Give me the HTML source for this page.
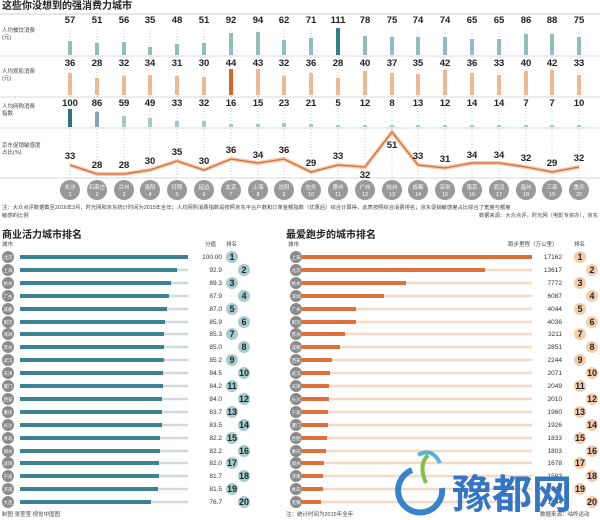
<!DOCTYPE html>
<html><head><meta charset="utf-8"><style>
body{margin:0;background:#fff;width:600px;height:520px;overflow:hidden}
svg{display:block;font-family:"Liberation Sans","Noto Sans CJK SC",sans-serif}
</style></head><body>
<svg width="600" height="520" viewBox="0 0 600 520">
<text x="2" y="9" font-size="10" font-weight="bold" fill="#222">这些你没想到的强消费力城市</text>
<line x1="0" y1="14" x2="600" y2="14" stroke="#ccc" stroke-width="1"/>
<g stroke="#ccc" stroke-width="0.8">
<line x1="0" y1="56" x2="600" y2="56"/><line x1="0" y1="97" x2="600" y2="97"/><line x1="0" y1="128" x2="600" y2="128"/><line x1="0" y1="178" x2="600" y2="178"/>
</g>
<g stroke="#bbb" stroke-width="0.8" stroke-dasharray="1,2">
<line x1="70" y1="30" x2="70" y2="180"/><line x1="97" y1="30" x2="97" y2="180"/><line x1="124" y1="30" x2="124" y2="180"/><line x1="150" y1="30" x2="150" y2="180"/><line x1="177" y1="30" x2="177" y2="180"/><line x1="204" y1="30" x2="204" y2="180"/><line x1="231" y1="30" x2="231" y2="180"/><line x1="258" y1="30" x2="258" y2="180"/><line x1="284" y1="30" x2="284" y2="180"/><line x1="311" y1="30" x2="311" y2="180"/><line x1="338" y1="30" x2="338" y2="180"/><line x1="365" y1="30" x2="365" y2="180"/><line x1="392" y1="30" x2="392" y2="180"/><line x1="418" y1="30" x2="418" y2="180"/><line x1="445" y1="30" x2="445" y2="180"/><line x1="472" y1="30" x2="472" y2="180"/><line x1="499" y1="30" x2="499" y2="180"/><line x1="526" y1="30" x2="526" y2="180"/><line x1="552" y1="30" x2="552" y2="180"/><line x1="579" y1="30" x2="579" y2="180"/>
</g>
<g font-size="5.5" fill="#444">
<text x="2" y="32">人均餐饮消费</text><text x="2" y="39">(元)</text>
<text x="2" y="73">人均观影消费</text><text x="2" y="80">(元)</text>
<text x="2" y="108">人均网购消费</text><text x="2" y="115">指数</text>
<text x="2" y="147">京东促销敏感度</text><text x="2" y="154">占比(%)</text>
</g>
<!-- row1 -->
<g font-size="9.5" font-weight="bold" fill="#222" text-anchor="middle">
<text x="70" y="23">57</text><text x="97" y="23">51</text><text x="124" y="23">56</text><text x="150" y="23">35</text><text x="177" y="23">48</text><text x="204" y="23">51</text><text x="231" y="23">92</text><text x="258" y="23">94</text><text x="284" y="23">62</text><text x="311" y="23">71</text><text x="338" y="23">111</text><text x="365" y="23">78</text><text x="392" y="23">75</text><text x="418" y="23">74</text><text x="445" y="23">74</text><text x="472" y="23">65</text><text x="499" y="23">65</text><text x="526" y="23">86</text><text x="552" y="23">88</text><text x="579" y="23">75</text>
<text x="70" y="66">36</text><text x="97" y="66">28</text><text x="124" y="66">32</text><text x="150" y="66">34</text><text x="177" y="66">31</text><text x="204" y="66">30</text><text x="231" y="66">44</text><text x="258" y="66">43</text><text x="284" y="66">32</text><text x="311" y="66">36</text><text x="338" y="66">28</text><text x="365" y="66">40</text><text x="392" y="66">37</text><text x="418" y="66">35</text><text x="445" y="66">42</text><text x="472" y="66">36</text><text x="499" y="66">33</text><text x="526" y="66">40</text><text x="552" y="66">42</text><text x="579" y="66">33</text>
<text x="70" y="106">100</text><text x="97" y="106">86</text><text x="124" y="106">59</text><text x="150" y="106">49</text><text x="177" y="106">33</text><text x="204" y="106">32</text><text x="231" y="106">16</text><text x="258" y="106">15</text><text x="284" y="106">23</text><text x="311" y="106">21</text><text x="338" y="106">5</text><text x="365" y="106">12</text><text x="392" y="106">8</text><text x="418" y="106">13</text><text x="445" y="106">12</text><text x="472" y="106">14</text><text x="499" y="106">14</text><text x="526" y="106">7</text><text x="552" y="106">7</text><text x="579" y="106">10</text>
</g>
<g fill="#8fbfb8">
<rect x="68" y="41" width="4" height="14"/><rect x="95" y="43" width="4" height="12"/><rect x="122" y="42" width="4" height="13"/><rect x="148" y="47" width="4" height="8"/><rect x="175" y="44" width="4" height="11"/><rect x="202" y="43" width="4" height="12"/><rect x="229" y="33" width="4" height="22"/><rect x="256" y="32" width="4" height="23"/><rect x="282" y="40" width="4" height="15"/><rect x="309" y="38" width="4" height="17"/><rect x="336" y="28" width="4" height="27" fill="#2f7f8a"/><rect x="363" y="36" width="4" height="19"/><rect x="390" y="37" width="4" height="18"/><rect x="416" y="37" width="4" height="18"/><rect x="443" y="37" width="4" height="18"/><rect x="470" y="39" width="4" height="16"/><rect x="497" y="39" width="4" height="16"/><rect x="524" y="34" width="4" height="21"/><rect x="550" y="34" width="4" height="21"/><rect x="577" y="37" width="4" height="18"/>
</g>
<g fill="#f0b890">
<rect x="68" y="73" width="4" height="22"/><rect x="95" y="78" width="4" height="17"/><rect x="122" y="76" width="4" height="19"/><rect x="148" y="75" width="4" height="20"/><rect x="175" y="76" width="4" height="19"/><rect x="202" y="77" width="4" height="18"/><rect x="229" y="69" width="4" height="26" fill="#e0602a"/><rect x="256" y="69" width="4" height="26"/><rect x="282" y="76" width="4" height="19"/><rect x="309" y="73" width="4" height="22"/><rect x="336" y="78" width="4" height="17"/><rect x="363" y="71" width="4" height="24"/><rect x="390" y="73" width="4" height="22"/><rect x="416" y="74" width="4" height="21"/><rect x="443" y="70" width="4" height="25"/><rect x="470" y="73" width="4" height="22"/><rect x="497" y="75" width="4" height="20"/><rect x="524" y="71" width="4" height="24"/><rect x="550" y="70" width="4" height="25"/><rect x="577" y="75" width="4" height="20"/>
</g>
<g fill="#a8c8c8">
<rect x="68" y="109" width="4" height="18" fill="#2f6f8a"/><rect x="95" y="112" width="4" height="15" fill="#7fa8c0"/><rect x="122" y="116" width="4" height="11"/><rect x="148" y="118" width="4" height="9"/><rect x="175" y="121" width="4" height="6"/><rect x="202" y="121" width="4" height="6"/><rect x="229" y="124" width="4" height="3"/><rect x="256" y="124" width="4" height="3"/><rect x="282" y="123" width="4" height="4"/><rect x="309" y="124" width="4" height="3"/><rect x="336" y="125" width="4" height="2"/><rect x="363" y="125" width="4" height="2"/><rect x="390" y="125" width="4" height="2"/><rect x="416" y="125" width="4" height="2"/><rect x="443" y="125" width="4" height="2"/><rect x="470" y="125" width="4" height="2"/><rect x="497" y="125" width="4" height="2"/><rect x="524" y="125" width="4" height="2"/><rect x="550" y="125" width="4" height="2"/><rect x="577" y="125" width="4" height="2"/>
</g>
<polyline fill="none" stroke="#f5c8a8" stroke-width="4" points="70,165 97,174 124,174 150,170 177,161 204,170 231,159 258,163 284,159 311,172 338,165 365,167 392,132 418,165 445,168 472,163 499,163 526,167 552,172 579,167"/>
<polyline fill="none" stroke="#d0703a" stroke-width="1.3" points="70,165 97,174 124,174 150,170 177,161 204,170 231,159 258,163 284,159 311,172 338,165 365,167 392,132 418,165 445,168 472,163 499,163 526,167 552,172 579,167"/>
<g font-size="9.5" font-weight="bold" fill="#222" text-anchor="middle">
<text x="70" y="159">33</text><text x="97" y="168">28</text><text x="124" y="168">28</text><text x="150" y="164">30</text><text x="177" y="155">35</text><text x="204" y="164">30</text><text x="231" y="153">36</text><text x="258" y="158">34</text><text x="284" y="153">36</text><text x="311" y="166">29</text><text x="338" y="159">33</text><text x="365" y="178">32</text><text x="392" y="148">51</text><text x="418" y="159">33</text><text x="445" y="162">31</text><text x="472" y="158">34</text><text x="499" y="158">34</text><text x="526" y="161">32</text><text x="552" y="166">29</text><text x="579" y="161">32</text>
</g>
<g fill="#999">
<circle cx="70" cy="190" r="10"/><circle cx="97" cy="190" r="10"/><circle cx="124" cy="190" r="10"/><circle cx="150" cy="190" r="10"/><circle cx="177" cy="190" r="10"/><circle cx="204" cy="190" r="10"/><circle cx="231" cy="190" r="10"/><circle cx="258" cy="190" r="10"/><circle cx="284" cy="190" r="10"/><circle cx="311" cy="190" r="10"/><circle cx="338" cy="190" r="10"/><circle cx="365" cy="190" r="10"/><circle cx="392" cy="190" r="10"/><circle cx="418" cy="190" r="10"/><circle cx="445" cy="190" r="10"/><circle cx="472" cy="190" r="10"/><circle cx="499" cy="190" r="10"/><circle cx="526" cy="190" r="10"/><circle cx="552" cy="190" r="10"/><circle cx="579" cy="190" r="10"/>
</g>
<g font-size="5.5" fill="#fff" text-anchor="middle">
<text x="70" y="189">长沙</text><text x="97" y="189">石家庄</text><text x="124" y="189">兰州</text><text x="150" y="189">洛阳</text><text x="177" y="189">日照</text><text x="204" y="189">延边</text><text x="231" y="189">北京</text><text x="258" y="189">上海</text><text x="284" y="189">沈阳</text><text x="311" y="189">包头</text><text x="338" y="189">惠州</text><text x="365" y="189">广州</text><text x="392" y="189">杭州</text><text x="418" y="189">成都</text><text x="445" y="189">深圳</text><text x="472" y="189">南京</text><text x="499" y="189">武汉</text><text x="526" y="189">温州</text><text x="552" y="189">三亚</text><text x="579" y="189">重庆</text>
<text x="70" y="196">1</text><text x="97" y="196">2</text><text x="124" y="196">3</text><text x="150" y="196">4</text><text x="177" y="196">5</text><text x="204" y="196">6</text><text x="231" y="196">7</text><text x="258" y="196">8</text><text x="284" y="196">9</text><text x="311" y="196">10</text><text x="338" y="196">11</text><text x="365" y="196">12</text><text x="392" y="196">13</text><text x="418" y="196">14</text><text x="445" y="196">15</text><text x="472" y="196">16</text><text x="499" y="196">17</text><text x="526" y="196">18</text><text x="552" y="196">19</text><text x="579" y="196">20</text>
</g>
<g font-size="5.3" fill="#444">
<text x="2" y="209">注：大众点评数据截至2016年3月，时光网和京东统计时间为2015年全年；人均网购消费指数是按照京东平台户数和订单金额指数（优惠后）综合计算得，此表按照综合消费排名；京东促销敏感度占比综合了宽度与额度</text>
<text x="2" y="217">敏感的比例</text>
<text x="598" y="217" text-anchor="end">数据来源：大众点评，时光网（电影专资办），京东</text>
</g>
<text x="2" y="238" font-size="10" font-weight="bold" fill="#222">商业活力城市排名</text>
<text x="286" y="238" font-size="10" font-weight="bold" fill="#222">最爱跑步的城市排名</text>
<g font-size="5.5" fill="#444">
<text x="2" y="246">城市</text><text x="205" y="246">分值</text><text x="226" y="246">排名</text>
<text x="288" y="246">城市</text><text x="508" y="246">跑步里程（万公里）</text><text x="574" y="246">排名</text>
<text x="2" y="516">制图  张莹莹  视觉中国图</text><text x="286" y="516">注：统计时间为2015年全年</text><text x="540" y="516">数据来源：咕咚运动</text>
</g>
<!-- left ranking -->
<g stroke="#d0dada" stroke-width="2.5"><line x1="20" y1="257" x2="188" y2="257"/><line x1="20" y1="270" x2="188" y2="270"/><line x1="20" y1="283" x2="188" y2="283"/><line x1="20" y1="296" x2="188" y2="296"/><line x1="20" y1="309" x2="188" y2="309"/><line x1="20" y1="322" x2="188" y2="322"/><line x1="20" y1="334" x2="188" y2="334"/><line x1="20" y1="347" x2="188" y2="347"/><line x1="20" y1="360" x2="188" y2="360"/><line x1="20" y1="373" x2="188" y2="373"/><line x1="20" y1="386" x2="188" y2="386"/><line x1="20" y1="399" x2="188" y2="399"/><line x1="20" y1="412" x2="188" y2="412"/><line x1="20" y1="425" x2="188" y2="425"/><line x1="20" y1="438" x2="188" y2="438"/><line x1="20" y1="451" x2="188" y2="451"/><line x1="20" y1="463" x2="188" y2="463"/><line x1="20" y1="476" x2="188" y2="476"/><line x1="20" y1="489" x2="188" y2="489"/><line x1="20" y1="502" x2="188" y2="502"/></g>
<g stroke="#3d8290" stroke-width="4"><line x1="20" y1="257" x2="188" y2="257"/><line x1="20" y1="270" x2="177" y2="270"/><line x1="20" y1="283" x2="171" y2="283"/><line x1="20" y1="296" x2="169" y2="296"/><line x1="20" y1="309" x2="167" y2="309"/><line x1="20" y1="322" x2="165" y2="322"/><line x1="20" y1="334" x2="164" y2="334"/><line x1="20" y1="347" x2="164" y2="347"/><line x1="20" y1="360" x2="164" y2="360"/><line x1="20" y1="373" x2="163" y2="373"/><line x1="20" y1="386" x2="163" y2="386"/><line x1="20" y1="399" x2="162" y2="399"/><line x1="20" y1="412" x2="162" y2="412"/><line x1="20" y1="425" x2="162" y2="425"/><line x1="20" y1="438" x2="160" y2="438"/><line x1="20" y1="451" x2="160" y2="451"/><line x1="20" y1="463" x2="159" y2="463"/><line x1="20" y1="476" x2="159" y2="476"/><line x1="20" y1="489" x2="158" y2="489"/><line x1="20" y1="502" x2="151" y2="502"/></g>
<g fill="#8a8a8a"><circle cx="8" cy="257" r="6"/><circle cx="8" cy="270" r="6"/><circle cx="8" cy="283" r="6"/><circle cx="8" cy="296" r="6"/><circle cx="8" cy="309" r="6"/><circle cx="8" cy="322" r="6"/><circle cx="8" cy="334" r="6"/><circle cx="8" cy="347" r="6"/><circle cx="8" cy="360" r="6"/><circle cx="8" cy="373" r="6"/><circle cx="8" cy="386" r="6"/><circle cx="8" cy="399" r="6"/><circle cx="8" cy="412" r="6"/><circle cx="8" cy="425" r="6"/><circle cx="8" cy="438" r="6"/><circle cx="8" cy="451" r="6"/><circle cx="8" cy="463" r="6"/><circle cx="8" cy="476" r="6"/><circle cx="8" cy="489" r="6"/><circle cx="8" cy="502" r="6"/>
<circle cx="296" cy="257" r="6"/><circle cx="296" cy="270" r="6"/><circle cx="296" cy="283" r="6"/><circle cx="296" cy="296" r="6"/><circle cx="296" cy="309" r="6"/><circle cx="296" cy="322" r="6"/><circle cx="296" cy="334" r="6"/><circle cx="296" cy="347" r="6"/><circle cx="296" cy="360" r="6"/><circle cx="296" cy="373" r="6"/><circle cx="296" cy="386" r="6"/><circle cx="296" cy="399" r="6"/><circle cx="296" cy="412" r="6"/><circle cx="296" cy="425" r="6"/><circle cx="296" cy="438" r="6"/><circle cx="296" cy="451" r="6"/><circle cx="296" cy="463" r="6"/><circle cx="296" cy="476" r="6"/><circle cx="296" cy="489" r="6"/><circle cx="296" cy="502" r="6"/></g>
<g font-size="4.5" fill="#fff" text-anchor="middle">
<text x="8" y="259">北京</text><text x="8" y="272">上海</text><text x="8" y="285">杭州</text><text x="8" y="298">广州</text><text x="8" y="311">成都</text><text x="8" y="324">南京</text><text x="8" y="336">深圳</text><text x="8" y="349">苏州</text><text x="8" y="362">武汉</text><text x="8" y="375">天津</text><text x="8" y="388">厦门</text><text x="8" y="401">西安</text><text x="8" y="414">重庆</text><text x="8" y="427">长沙</text><text x="8" y="440">青岛</text><text x="8" y="453">郑州</text><text x="8" y="465">沈阳</text><text x="8" y="478">宁波</text><text x="8" y="491">济南</text><text x="8" y="504">大连</text>
<text x="296" y="259">上海</text><text x="296" y="272">北京</text><text x="296" y="285">杭州</text><text x="296" y="298">深圳</text><text x="296" y="311">广州</text><text x="296" y="324">南京</text><text x="296" y="336">苏州</text><text x="296" y="349">成都</text><text x="296" y="362">西安</text><text x="296" y="375">武汉</text><text x="296" y="388">天津</text><text x="296" y="401">长沙</text><text x="296" y="414">宁波</text><text x="296" y="427">厦门</text><text x="296" y="440">合肥</text><text x="296" y="453">重庆</text><text x="296" y="465">郑州</text><text x="296" y="478">济南</text><text x="296" y="491">青岛</text><text x="296" y="504">无锡</text>
</g>
<g font-size="6.5" fill="#333" text-anchor="end">
<text x="222" y="259">100.00</text><text x="222" y="272">92.9</text><text x="222" y="285">89.3</text><text x="222" y="298">87.9</text><text x="222" y="311">87.0</text><text x="222" y="324">85.9</text><text x="222" y="336">85.3</text><text x="222" y="349">85.0</text><text x="222" y="362">85.2</text><text x="222" y="375">84.5</text><text x="222" y="388">84.2</text><text x="222" y="401">84.0</text><text x="222" y="414">83.7</text><text x="222" y="427">83.5</text><text x="222" y="440">82.2</text><text x="222" y="453">82.2</text><text x="222" y="465">82.0</text><text x="222" y="478">81.7</text><text x="222" y="491">81.5</text><text x="222" y="504">76.7</text>
<text x="562" y="259">17162</text><text x="562" y="272">13617</text><text x="562" y="285">7772</text><text x="562" y="298">6087</text><text x="562" y="311">4044</text><text x="562" y="324">4036</text><text x="562" y="336">3211</text><text x="562" y="349">2851</text><text x="562" y="362">2244</text><text x="562" y="375">2071</text><text x="562" y="388">2049</text><text x="562" y="401">2010</text><text x="562" y="414">1960</text><text x="562" y="427">1926</text><text x="562" y="440">1833</text><text x="562" y="453">1803</text><text x="562" y="465">1678</text><text x="562" y="478">1593</text><text x="562" y="491">1544</text><text x="562" y="504">1444</text>
</g>
<!-- right bars -->
<g stroke="#f6d8c4" stroke-width="2.5"><line x1="302" y1="257" x2="532" y2="257"/><line x1="302" y1="270" x2="532" y2="270"/><line x1="302" y1="283" x2="532" y2="283"/><line x1="302" y1="296" x2="532" y2="296"/><line x1="302" y1="309" x2="532" y2="309"/><line x1="302" y1="322" x2="532" y2="322"/><line x1="302" y1="334" x2="532" y2="334"/><line x1="302" y1="347" x2="532" y2="347"/><line x1="302" y1="360" x2="532" y2="360"/><line x1="302" y1="373" x2="532" y2="373"/><line x1="302" y1="386" x2="532" y2="386"/><line x1="302" y1="399" x2="532" y2="399"/><line x1="302" y1="412" x2="532" y2="412"/><line x1="302" y1="425" x2="532" y2="425"/><line x1="302" y1="438" x2="532" y2="438"/><line x1="302" y1="451" x2="532" y2="451"/><line x1="302" y1="463" x2="532" y2="463"/><line x1="302" y1="476" x2="532" y2="476"/><line x1="302" y1="489" x2="532" y2="489"/><line x1="302" y1="502" x2="532" y2="502"/></g>
<g stroke="#e0703a" stroke-width="4"><line x1="302" y1="257" x2="532" y2="257"/><line x1="302" y1="270" x2="485" y2="270"/><line x1="302" y1="283" x2="406" y2="283"/><line x1="302" y1="296" x2="384" y2="296"/><line x1="302" y1="309" x2="356" y2="309"/><line x1="302" y1="322" x2="356" y2="322"/><line x1="302" y1="334" x2="345" y2="334"/><line x1="302" y1="347" x2="340" y2="347"/><line x1="302" y1="360" x2="332" y2="360"/><line x1="302" y1="373" x2="330" y2="373"/><line x1="302" y1="386" x2="329" y2="386"/><line x1="302" y1="399" x2="329" y2="399"/><line x1="302" y1="412" x2="328" y2="412"/><line x1="302" y1="425" x2="328" y2="425"/><line x1="302" y1="438" x2="327" y2="438"/><line x1="302" y1="451" x2="326" y2="451"/><line x1="302" y1="463" x2="324" y2="463"/><line x1="302" y1="476" x2="323" y2="476"/><line x1="302" y1="489" x2="323" y2="489"/><line x1="302" y1="502" x2="321" y2="502"/></g>
<!-- rank circles -->
<g fill="#a8cccc"><circle cx="232" cy="257" r="6"/><circle cx="244" cy="270" r="6"/><circle cx="232" cy="283" r="6"/><circle cx="244" cy="296" r="6"/><circle cx="232" cy="309" r="6"/><circle cx="244" cy="322" r="6"/><circle cx="232" cy="334" r="6"/><circle cx="244" cy="347" r="6"/><circle cx="232" cy="360" r="6"/><circle cx="244" cy="373" r="6"/><circle cx="232" cy="386" r="6"/><circle cx="244" cy="399" r="6"/><circle cx="232" cy="412" r="6"/><circle cx="244" cy="425" r="6"/><circle cx="232" cy="438" r="6"/><circle cx="244" cy="451" r="6"/><circle cx="232" cy="463" r="6"/><circle cx="244" cy="476" r="6"/><circle cx="232" cy="489" r="6"/><circle cx="244" cy="502" r="6"/></g>
<g fill="#f8cca8"><circle cx="580" cy="257" r="6"/><circle cx="592" cy="270" r="6"/><circle cx="580" cy="283" r="6"/><circle cx="592" cy="296" r="6"/><circle cx="580" cy="309" r="6"/><circle cx="592" cy="322" r="6"/><circle cx="580" cy="334" r="6"/><circle cx="592" cy="347" r="6"/><circle cx="580" cy="360" r="6"/><circle cx="592" cy="373" r="6"/><circle cx="580" cy="386" r="6"/><circle cx="592" cy="399" r="6"/><circle cx="580" cy="412" r="6"/><circle cx="592" cy="425" r="6"/><circle cx="580" cy="438" r="6"/><circle cx="592" cy="451" r="6"/><circle cx="580" cy="463" r="6"/><circle cx="592" cy="476" r="6"/><circle cx="580" cy="489" r="6"/><circle cx="592" cy="502" r="6"/></g>
<g font-size="9" font-weight="bold" fill="#1a2a30" text-anchor="middle">
<text x="232" y="260">1</text><text x="244" y="273">2</text><text x="232" y="286">3</text><text x="244" y="299">4</text><text x="232" y="312">5</text><text x="244" y="325">6</text><text x="232" y="337">7</text><text x="244" y="350">8</text><text x="232" y="363">9</text><text x="244" y="376">10</text><text x="232" y="389">11</text><text x="244" y="402">12</text><text x="232" y="415">13</text><text x="244" y="428">14</text><text x="232" y="441">15</text><text x="244" y="454">16</text><text x="232" y="466">17</text><text x="244" y="479">18</text><text x="232" y="492">19</text><text x="244" y="505">20</text>
<text x="580" y="260">1</text><text x="592" y="273">2</text><text x="580" y="286">3</text><text x="592" y="299">4</text><text x="580" y="312">5</text><text x="592" y="325">6</text><text x="580" y="337">7</text><text x="592" y="350">8</text><text x="580" y="363">9</text><text x="592" y="376">10</text><text x="580" y="389">11</text><text x="592" y="402">12</text><text x="580" y="415">13</text><text x="592" y="428">14</text><text x="580" y="441">15</text><text x="592" y="454">16</text><text x="580" y="466">17</text><text x="592" y="479">18</text><text x="580" y="492">19</text><text x="592" y="505">20</text>
</g>
<!-- watermark -->
<g opacity="0.95">
<path d="M412,470 a22,22 0 1,0 30,18" fill="none" stroke="#2a7fc8" stroke-width="6"/>
<path d="M428,455 q-10,10 -2,28" fill="none" stroke="#7ac040" stroke-width="4"/>
<path d="M418,455 q14,-8 22,8" fill="none" stroke="#4ab0e0" stroke-width="4"/>
<text x="452" y="508" font-size="40" font-weight="bold" fill="#2a6fc0" font-family="'Noto Sans CJK SC',sans-serif">豫都网</text>
</g>
</svg>
</body></html>
